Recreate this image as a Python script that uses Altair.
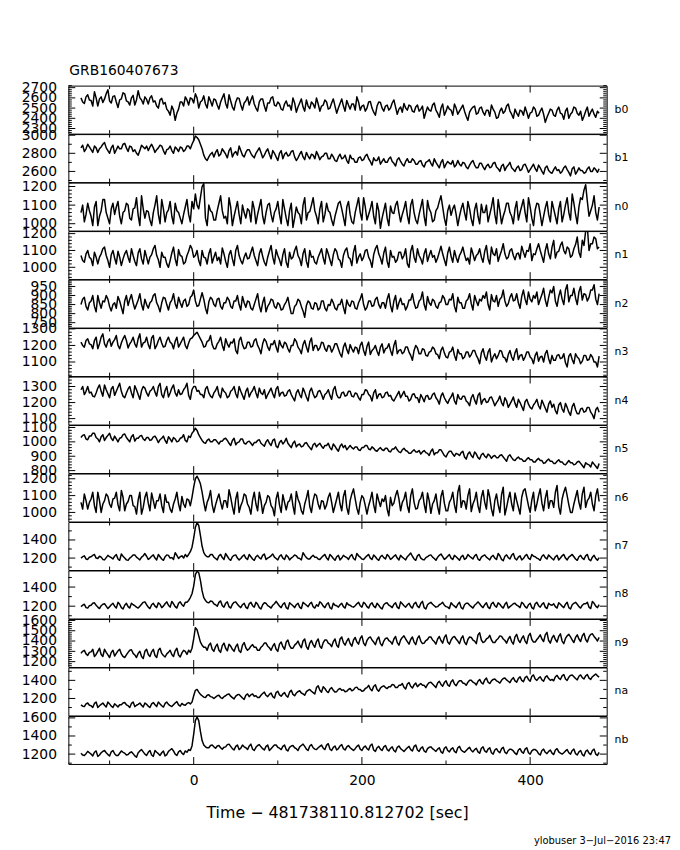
import altair as alt
import pandas as pd

# time bins (seconds relative to trigger), one value every 2 s
T_START = -134.0
T_STEP = 2.0

B0 = [2600, 2560, 2545, 2610, 2630, 2580, 2575, 2520, 2660, 2600, 2520, 2590, 2610, 2555, 2590, 2640, 2680, 2570, 2550, 2615,
      2620, 2560, 2505, 2580, 2590, 2650, 2640, 2570, 2560, 2530, 2600, 2625, 2530, 2580, 2670, 2600, 2580, 2540, 2610, 2585,
      2540, 2600, 2620, 2560, 2570, 2520, 2500, 2580, 2595, 2540, 2555, 2490, 2470, 2430, 2520, 2480, 2380, 2450, 2490, 2560,
      2560, 2520, 2610, 2580, 2530, 2600, 2590, 2550, 2640, 2600, 2500, 2560, 2575, 2620, 2540, 2500, 2610, 2570, 2520, 2590,
      2580, 2530, 2490, 2560, 2600, 2640, 2545, 2500, 2630, 2570, 2510, 2480, 2560, 2600, 2595, 2530, 2480, 2550, 2570, 2610,
      2530, 2580, 2620, 2540, 2500, 2470, 2560, 2590, 2590, 2520, 2470, 2550, 2550, 2600, 2610, 2530, 2520, 2560, 2540, 2490,
      2480, 2540, 2570, 2520, 2530, 2480, 2600, 2550, 2460, 2510, 2550, 2590, 2510, 2470, 2580, 2520, 2495, 2560, 2540, 2500,
      2600, 2540, 2470, 2520, 2530, 2580, 2560, 2490, 2500, 2550, 2590, 2520, 2450, 2500, 2545, 2590, 2520, 2470, 2575, 2530,
      2490, 2540, 2540, 2480, 2610, 2560, 2480, 2520, 2530, 2470, 2500, 2560, 2565, 2500, 2460, 2430, 2520, 2560, 2555, 2500,
      2470, 2520, 2530, 2480, 2500, 2550, 2580, 2510, 2440, 2490, 2510, 2460, 2545, 2500, 2480, 2530, 2520, 2470, 2460, 2510,
      2530, 2470, 2490, 2520, 2400, 2460, 2510, 2480, 2470, 2530, 2550, 2480, 2450, 2410, 2500, 2540, 2430, 2470, 2520, 2490,
      2480, 2430, 2540, 2500, 2440, 2470, 2500, 2530, 2470, 2420, 2380, 2460, 2490, 2510, 2520, 2440, 2450, 2500, 2510, 2460,
      2430, 2480, 2480, 2420, 2530, 2490, 2460, 2400, 2410, 2470, 2500, 2450, 2470, 2520, 2540, 2470, 2440, 2400, 2490, 2450,
      2420, 2480, 2470, 2430, 2510, 2460, 2400, 2450, 2460, 2510, 2490, 2420, 2430, 2470, 2500, 2440, 2360, 2410, 2450, 2490,
      2480, 2430, 2420, 2480, 2510, 2450, 2440, 2390, 2470, 2500, 2400, 2440, 2460, 2510, 2500, 2450, 2430, 2470, 2380, 2420,
      2470, 2510, 2420, 2460, 2490, 2440, 2410, 2470, 2450]

B1 = [2860, 2890, 2820, 2850, 2900, 2870, 2840, 2810, 2880, 2860, 2810, 2850, 2870, 2900, 2920, 2860, 2830, 2800, 2860, 2890,
      2800, 2840, 2880, 2850, 2850, 2900, 2910, 2860, 2820, 2880, 2870, 2820, 2840, 2800, 2780, 2830, 2890, 2870, 2850, 2880,
      2830, 2870, 2900, 2860, 2810, 2840, 2860, 2890, 2880, 2830, 2790, 2840, 2850, 2880, 2830, 2800, 2870, 2850, 2820, 2870,
      2860, 2820, 2840, 2880, 2880, 2850, 2900, 2940, 2990, 2975, 2950, 2900, 2850, 2780, 2740, 2720, 2760, 2790, 2810, 2760,
      2810, 2840, 2770, 2790, 2850, 2820, 2790, 2750, 2830, 2860, 2760, 2800, 2820, 2780, 2880, 2830, 2780, 2760, 2810, 2840,
      2840, 2800, 2770, 2750, 2800, 2830, 2860, 2810, 2750, 2780, 2820, 2850, 2790, 2740, 2830, 2800, 2760, 2720, 2800, 2830,
      2740, 2790, 2810, 2770, 2780, 2820, 2830, 2760, 2720, 2750, 2790, 2820, 2760, 2730, 2810, 2770, 2740, 2790, 2780, 2740,
      2820, 2780, 2730, 2760, 2770, 2800, 2800, 2740, 2740, 2790, 2760, 2720, 2710, 2760, 2790, 2740, 2750, 2780, 2720, 2690,
      2780, 2740, 2740, 2700, 2700, 2750, 2760, 2720, 2730, 2770, 2790, 2740, 2710, 2670, 2750, 2720, 2720, 2760, 2680, 2710,
      2740, 2700, 2700, 2740, 2760, 2710, 2690, 2660, 2730, 2750, 2710, 2680, 2660, 2710, 2740, 2700, 2700, 2740, 2720, 2680,
      2680, 2710, 2720, 2670, 2650, 2700, 2710, 2730, 2690, 2660, 2740, 2700, 2670, 2640, 2700, 2730, 2640, 2680, 2710, 2690,
      2680, 2720, 2650, 2670, 2720, 2680, 2660, 2700, 2690, 2650, 2630, 2670, 2700, 2720, 2670, 2640, 2640, 2690, 2690, 2650,
      2620, 2660, 2680, 2640, 2650, 2690, 2700, 2650, 2630, 2600, 2660, 2680, 2610, 2650, 2670, 2700, 2640, 2620, 2600, 2640,
      2660, 2610, 2620, 2670, 2680, 2640, 2590, 2620, 2650, 2680, 2630, 2600, 2670, 2640, 2600, 2570, 2640, 2660, 2610, 2590,
      2580, 2620, 2650, 2610, 2620, 2580, 2600, 2640, 2660, 2620, 2590, 2550, 2630, 2650, 2570, 2600, 2640, 2610, 2610, 2580,
      2590, 2630, 2650, 2600, 2600, 2640, 2620, 2590, 2630]

N0 = [1060, 1100, 1010, 1050, 1110, 1070, 1040, 990, 1090, 1120, 990, 1040, 1070, 1130, 1130, 1060, 1030, 1000, 1080, 1110,
      1050, 1090, 1120, 1040, 1000, 1060, 1070, 1110, 1100, 1030, 1020, 1080, 1085, 1140, 1045, 990, 1150, 1080, 1030, 1070,
      1065, 1020, 990, 1060, 1100, 1150, 1050, 1000, 1130, 1080, 1010, 1060, 1075, 1120, 1040, 1000, 1110, 1070, 1060, 1030,
      1000, 1050, 1090, 1130, 1050, 1010, 1120, 1080, 1160, 1100, 1080, 1140, 1200, 1215, 1030, 990, 1100, 1070, 1060, 1020,
      1020, 1070, 1110, 1150, 1070, 1030, 1040, 1000, 1140, 1090, 990, 1040, 1080, 1120, 1050, 1000, 1100, 1060, 1030, 1080,
      1070, 1010, 1120, 1080, 1000, 1050, 1090, 1130, 1040, 1000, 1060, 1100, 1110, 1050, 1010, 1060, 1080, 1120, 1050, 1000,
      1130, 1080, 1030, 990, 1070, 1110, 980, 1030, 1090, 1060, 1050, 1000, 1100, 1140, 1020, 1060, 1065, 1100, 1140, 1070,
      1040, 1000, 1080, 1120, 1010, 1050, 1110, 1070, 1060, 1020, 990, 1040, 1075, 1110, 1120, 1080, 1035, 990, 1090, 1120,
      1050, 1010, 1000, 1060, 1100, 1140, 1060, 1020, 1140, 1090, 1020, 1050, 1080, 1120, 1040, 1000, 1110, 1070, 975, 1030,
      1070, 1110, 1030, 990, 1095, 1060, 1055, 1100, 1120, 1060, 1010, 1050, 1080, 1120, 1045, 1000, 1100, 1130, 1060, 1020,
      1000, 1050, 1090, 1130, 1040, 990, 1125, 1080, 1060, 1010, 1020, 1070, 1085, 1120, 1150, 1090, 1030, 990, 1070, 1100,
      1045, 1080, 1100, 1050, 990, 1040, 1080, 1110, 1060, 1020, 1120, 1080, 1025, 990, 1075, 1110, 1040, 1000, 1105, 1060,
      1060, 1100, 1010, 1050, 1090, 1140, 1050, 1000, 1130, 1070, 1000, 1040, 1070, 1110, 1110, 1060, 1040, 1000, 1080, 1120,
      1020, 1060, 1095, 1130, 1060, 1010, 1140, 1090, 1030, 990, 1075, 1110, 1105, 1050, 990, 1040, 1085, 1120, 1050, 1010,
      1120, 1080, 1040, 1000, 1080, 1120, 1010, 1050, 1100, 1140, 1060, 1020, 1160, 1110, 1050, 1000, 1090, 1140, 1130, 1180,
      1210, 1120, 1040, 1070, 1100, 1150, 1060, 1020, 1090]

N1 = [1070, 1040, 1030, 1080, 1100, 1060, 1050, 1010, 1090, 1060, 1020, 1060, 1080, 1110, 1120, 1070, 1040, 1000, 1075, 1100,
      1055, 1020, 1095, 1060, 1010, 1050, 1080, 1100, 1060, 1030, 1110, 1070, 1035, 1010, 1085, 1110, 1050, 1020, 1100, 1060,
      1020, 1060, 1075, 1110, 1130, 1070, 1045, 1000, 1090, 1060, 1060, 1020, 1000, 1040, 1085, 1120, 1050, 1010, 1105, 1070,
      1065, 1020, 1030, 1070, 1095, 1130, 1110, 1060, 1070, 1100, 1040, 1010, 1100, 1060, 1055, 1020, 1080, 1110, 1025, 1060,
      1090, 1040, 1060, 1020, 1115, 1080, 1035, 1000, 1075, 1100, 1050, 1010, 1100, 1130, 1070, 1040, 1020, 1060, 1085, 1050,
      1055, 1090, 1120, 1070, 1040, 1010, 1080, 1110, 1065, 1030, 1010, 1060, 1095, 1130, 1060, 1020, 1105, 1070, 1045, 1010,
      1075, 1110, 1030, 1000, 1090, 1050, 1060, 1100, 1125, 1070, 1050, 1010, 1080, 1110, 1035, 1000, 1100, 1060, 1065, 1030,
      1020, 1060, 1085, 1110, 1055, 1020, 1110, 1080, 1045, 1010, 1075, 1110, 1095, 1050, 1040, 1000, 1070, 1100, 1115, 1060,
      1050, 1010, 1090, 1130, 1025, 1060, 1080, 1040, 1060, 1100, 1105, 1060, 1040, 1000, 1075, 1110, 1130, 1080, 1055, 1020,
      1085, 1120, 1035, 1000, 1100, 1060, 1065, 1030, 1045, 1090, 1090, 1050, 1070, 1110, 1020, 1000, 1095, 1130, 1060, 1030,
      1110, 1070, 1050, 1020, 1080, 1110, 1035, 1070, 1100, 1060, 1070, 1030, 1055, 1090, 1125, 1080, 1045, 1010, 1085, 1120,
      1065, 1030, 1100, 1060, 1030, 1070, 1090, 1120, 1075, 1040, 1055, 1020, 1115, 1080, 1040, 1070, 1080, 1110, 1060, 1030,
      1095, 1130, 1050, 1020, 1120, 1080, 1070, 1110, 1035, 1070, 1100, 1140, 1080, 1050, 1060, 1100, 1110, 1070, 1045, 1080,
      1085, 1050, 1125, 1090, 1060, 1100, 1095, 1140, 1040, 1080, 1075, 1110, 1140, 1100, 1065, 1030, 1100, 1140, 1080, 1050,
      1120, 1160, 1055, 1090, 1095, 1130, 1150, 1100, 1080, 1120, 1110, 1060, 1070, 1110, 1135, 1180, 1090, 1060, 1160, 1130,
      1215, 1240, 1100, 1140, 1140, 1180, 1170, 1110, 1120]

N2 = [850, 880, 890, 840, 820, 860, 870, 900, 840, 810, 900, 860, 830, 870, 865, 900, 880, 840, 815, 850,
      860, 830, 895, 870, 835, 800, 870, 900, 845, 880, 905, 860, 825, 850, 875, 910, 850, 820, 880, 850,
      830, 860, 870, 900, 910, 860, 840, 810, 860, 890, 885, 850, 820, 860, 875, 910, 855, 830, 890, 860,
      835, 870, 880, 840, 850, 890, 900, 930, 870, 840, 845, 880, 915, 880, 830, 800, 865, 890, 880, 850,
      840, 880, 885, 840, 825, 860, 860, 890, 875, 840, 830, 870, 870, 900, 850, 820, 895, 860, 835, 870,
      865, 830, 820, 850, 880, 910, 845, 810, 860, 890, 810, 840, 855, 880, 875, 840, 830, 860, 850, 820,
      825, 850, 865, 890, 840, 800, 800, 840, 850, 880, 870, 840, 815, 780, 845, 870, 860, 830, 825, 860,
      855, 820, 830, 870, 870, 830, 815, 850, 845, 880, 860, 830, 820, 850, 850, 880, 835, 800, 875, 850,
      840, 870, 865, 830, 825, 860, 880, 910, 850, 820, 835, 870, 870, 840, 845, 880, 890, 850, 830, 860,
      860, 830, 880, 910, 845, 810, 870, 900, 825, 860, 885, 850, 855, 820, 840, 875, 875, 910, 860, 830,
      835, 870, 880, 920, 850, 820, 895, 860, 845, 880, 870, 840, 830, 860, 865, 900, 885, 850, 850, 880,
      875, 910, 840, 810, 890, 860, 860, 830, 830, 870, 880, 910, 855, 820, 900, 870, 845, 880, 870, 900,
      885, 920, 850, 820, 905, 870, 865, 900, 840, 880, 890, 930, 870, 840, 855, 890, 910, 870, 875, 910,
      860, 830, 895, 930, 880, 850, 920, 880, 865, 900, 885, 920, 850, 880, 905, 940, 875, 840, 890, 930,
      915, 950, 870, 840, 895, 930, 880, 850, 930, 960, 865, 900, 900, 940, 885, 850, 920, 950, 875, 910,
      905, 870, 890, 930, 930, 960, 880, 850, 910]

N3 = [1220, 1200, 1190, 1230, 1240, 1210, 1205, 1180, 1230, 1250, 1180, 1210, 1250, 1270, 1210, 1190, 1225, 1240, 1195, 1220,
      1235, 1260, 1200, 1180, 1215, 1240, 1260, 1230, 1185, 1210, 1225, 1250, 1210, 1190, 1240, 1270, 1190, 1215, 1220, 1250,
      1205, 1180, 1245, 1260, 1180, 1200, 1230, 1250, 1215, 1190, 1195, 1230, 1250, 1220, 1210, 1180, 1225, 1250, 1190, 1210,
      1230, 1250, 1200, 1180, 1215, 1240, 1245, 1260, 1270, 1280, 1260, 1240, 1220, 1190, 1195, 1225, 1230, 1260, 1205, 1180,
      1180, 1210, 1225, 1250, 1200, 1170, 1240, 1210, 1190, 1220, 1215, 1240, 1170, 1150, 1230, 1250, 1205, 1180, 1185, 1220,
      1220, 1190, 1195, 1230, 1240, 1200, 1180, 1150, 1210, 1240, 1225, 1190, 1170, 1210, 1205, 1230, 1190, 1160, 1230, 1200,
      1185, 1220, 1210, 1180, 1160, 1200, 1200, 1240, 1225, 1190, 1175, 1150, 1205, 1230, 1190, 1160, 1220, 1245, 1170, 1200,
      1200, 1170, 1185, 1220, 1215, 1180, 1165, 1200, 1195, 1160, 1180, 1210, 1210, 1180, 1150, 1130, 1190, 1215, 1175, 1150,
      1205, 1180, 1160, 1190, 1185, 1150, 1200, 1220, 1170, 1140, 1195, 1220, 1145, 1170, 1180, 1200, 1165, 1140, 1190, 1210,
      1155, 1180, 1185, 1210, 1170, 1140, 1200, 1230, 1150, 1170, 1175, 1150, 1160, 1190, 1190, 1160, 1140, 1110, 1170, 1200,
      1185, 1150, 1150, 1180, 1175, 1140, 1135, 1160, 1165, 1190, 1180, 1150, 1145, 1120, 1170, 1190, 1155, 1130, 1125, 1160,
      1165, 1190, 1140, 1110, 1175, 1150, 1150, 1120, 1130, 1160, 1160, 1130, 1145, 1170, 1170, 1140, 1120, 1090, 1155, 1180,
      1135, 1110, 1160, 1180, 1100, 1130, 1150, 1120, 1140, 1170, 1165, 1130, 1125, 1100, 1145, 1170, 1130, 1110, 1155, 1180,
      1115, 1140, 1145, 1110, 1130, 1160, 1160, 1130, 1120, 1090, 1140, 1160, 1105, 1130, 1135, 1100, 1150, 1170, 1120, 1090,
      1140, 1110, 1110, 1140, 1145, 1120, 1125, 1150, 1095, 1070, 1135, 1150, 1115, 1090, 1150, 1130, 1120, 1090, 1105, 1140,
      1140, 1110, 1115, 1145, 1130, 1100, 1100, 1070, 1135]

N4 = [1280, 1300, 1250, 1270, 1300, 1260, 1265, 1240, 1235, 1260, 1290, 1310, 1270, 1240, 1310, 1280, 1255, 1230, 1285, 1300,
      1245, 1270, 1295, 1320, 1270, 1240, 1230, 1260, 1285, 1300, 1260, 1230, 1305, 1280, 1250, 1220, 1275, 1300, 1290, 1260,
      1240, 1270, 1280, 1300, 1265, 1240, 1300, 1320, 1250, 1230, 1275, 1300, 1235, 1260, 1290, 1310, 1260, 1240, 1280, 1250,
      1255, 1280, 1295, 1320, 1245, 1220, 1280, 1300, 1300, 1270, 1275, 1250, 1250, 1230, 1285, 1300, 1260, 1240, 1230, 1260,
      1275, 1300, 1250, 1230, 1290, 1270, 1260, 1230, 1240, 1270, 1280, 1300, 1255, 1230, 1300, 1270, 1245, 1220, 1270, 1290,
      1235, 1260, 1275, 1300, 1260, 1230, 1290, 1260, 1250, 1280, 1225, 1250, 1270, 1290, 1255, 1230, 1285, 1300, 1240, 1260,
      1265, 1240, 1245, 1270, 1280, 1250, 1230, 1210, 1260, 1280, 1250, 1230, 1290, 1265, 1235, 1210, 1270, 1290, 1255, 1230,
      1240, 1270, 1275, 1250, 1220, 1250, 1260, 1280, 1245, 1220, 1280, 1300, 1250, 1230, 1230, 1260, 1265, 1240, 1245, 1270,
      1270, 1240, 1235, 1260, 1255, 1230, 1215, 1250, 1250, 1280, 1275, 1250, 1240, 1210, 1260, 1280, 1225, 1250, 1255, 1230,
      1235, 1260, 1265, 1240, 1245, 1220, 1210, 1230, 1250, 1270, 1230, 1250, 1270, 1240, 1240, 1210, 1220, 1250, 1255, 1230,
      1230, 1200, 1250, 1230, 1205, 1240, 1245, 1220, 1225, 1250, 1260, 1230, 1215, 1190, 1240, 1260, 1230, 1210, 1195, 1220,
      1235, 1260, 1210, 1190, 1250, 1225, 1220, 1240, 1240, 1210, 1200, 1180, 1230, 1250, 1215, 1190, 1245, 1260, 1190, 1215,
      1225, 1200, 1205, 1230, 1235, 1210, 1180, 1200, 1215, 1240, 1200, 1180, 1230, 1210, 1170, 1190, 1210, 1235, 1195, 1170,
      1220, 1200, 1175, 1150, 1205, 1220, 1190, 1170, 1160, 1185, 1200, 1220, 1180, 1160, 1215, 1190, 1165, 1140, 1190, 1210,
      1170, 1190, 1150, 1130, 1185, 1200, 1160, 1140, 1195, 1170, 1140, 1120, 1175, 1195, 1155, 1130, 1130, 1160, 1165, 1140,
      1145, 1170, 1170, 1140, 1125, 1100, 1155, 1170, 1140]

N5 = [1030, 1045, 1050, 1020, 1015, 1040, 1040, 1060, 1060, 1030, 1020, 1000, 1035, 1050, 1010, 1030, 1045, 1060, 1025, 1010,
      1040, 1020, 1000, 1025, 1030, 1050, 1055, 1030, 1015, 1000, 1035, 1050, 1005, 1025, 1025, 1040, 1045, 1020, 1010, 1030,
      1030, 1010, 1015, 1035, 1040, 1020, 995, 1015, 1025, 1040, 1010, 990, 1035, 1020, 1000, 1030, 1020, 1000, 1005, 1025,
      1030, 1050, 1010, 1000, 1040, 1030, 1060, 1075, 1095, 1080, 1050, 1030, 1010, 995, 990, 1010, 1020, 1000, 1000, 1015,
      1015, 1000, 985, 1005, 1005, 1020, 1025, 1010, 990, 975, 1010, 1025, 980, 995, 1000, 1020, 1020, 990, 985, 1000,
      1005, 990, 975, 995, 995, 1010, 1015, 990, 980, 970, 1000, 1015, 990, 975, 1010, 1020, 970, 960, 995, 1010,
      985, 1000, 1025, 990, 975, 960, 990, 1005, 965, 980, 985, 965, 970, 990, 995, 975, 960, 945, 980, 990,
      965, 980, 990, 970, 955, 975, 975, 990, 960, 945, 985, 970, 950, 935, 970, 985, 960, 975, 945, 960,
      975, 960, 950, 965, 965, 945, 940, 960, 960, 975, 975, 950, 945, 965, 955, 940, 935, 950, 960, 945,
      940, 955, 955, 935, 930, 950, 950, 965, 945, 930, 925, 945, 955, 940, 935, 920, 920, 935, 945, 930,
      930, 940, 915, 930, 940, 925, 920, 905, 935, 950, 910, 925, 925, 945, 945, 925, 905, 895, 920, 935,
      935, 915, 900, 920, 915, 905, 925, 935, 895, 880, 915, 930, 905, 890, 930, 915, 890, 880, 910, 920,
      900, 890, 915, 905, 885, 900, 905, 890, 890, 905, 910, 895, 880, 865, 900, 910, 890, 875, 870, 885,
      895, 880, 880, 865, 865, 880, 890, 875, 875, 860, 860, 875, 885, 870, 870, 850, 855, 870, 880, 865,
      865, 850, 850, 865, 875, 860, 860, 845, 840, 855, 870, 855, 855, 840, 845, 860, 865, 850, 835, 820,
      855, 845, 840, 825, 860, 845, 830, 815, 850]

N6 = [1060, 1020, 1110, 1070, 1020, 1060, 1080, 1120, 1040, 1000, 1120, 1070, 1000, 1050, 1070, 1110, 1095, 1050, 1030, 1080,
      1085, 1120, 1045, 1010, 1130, 1090, 1010, 1050, 1065, 1100, 1100, 1040, 1035, 990, 1075, 1120, 990, 1030, 1090, 1120,
      1055, 1010, 1115, 1070, 1025, 1070, 1070, 1110, 1040, 1000, 1105, 1060, 1060, 1020, 1000, 1050, 1080, 1120, 1050, 1010,
      1095, 1050, 1030, 1080, 1075, 1040, 1090, 1150, 1200, 1215, 1195, 1170, 1120, 1060, 1010, 1060, 1085, 1130, 1045, 1000,
      1045, 1080, 1110, 1060, 1020, 1070, 1070, 1030, 1135, 1090, 1035, 990, 1080, 1120, 1000, 1040, 1065, 1110, 1100, 1050,
      1030, 990, 1075, 1120, 1050, 1010, 1120, 1070, 995, 1040, 1060, 1100, 1090, 1040, 1025, 980, 1080, 1120, 1045, 1000,
      1105, 1060, 1015, 1060, 1070, 1110, 1040, 990, 1125, 1080, 1055, 1010, 990, 1050, 1085, 1130, 1035, 1000, 1070, 1110,
      1100, 1050, 1020, 1070, 1065, 1020, 1045, 1090, 1115, 1060, 1000, 1040, 1080, 1120, 1050, 1010, 1095, 1130, 1030, 990,
      1070, 1110, 1140, 1080, 1025, 990, 1060, 1100, 1085, 1040, 990, 1040, 1075, 1120, 1045, 1000, 1110, 1070, 1035, 1080,
      1065, 1100, 1020, 980, 1090, 1040, 1055, 1100, 1130, 1080, 1010, 1060, 1080, 1120, 1040, 1000, 1100, 1140, 1060, 1020,
      1025, 1070, 1085, 1120, 1050, 1000, 1115, 1070, 995, 1050, 1070, 1110, 1035, 990, 1095, 1130, 1055, 1010, 1010, 1060,
      1080, 1120, 1045, 1000, 1120, 1160, 1030, 1070, 1065, 1020, 1100, 1140, 1005, 1050, 1075, 1120, 1040, 1000, 1090, 1130,
      1060, 1020, 1135, 1090, 1020, 980, 1070, 1110, 1045, 1000, 1105, 1150, 985, 1030, 1080, 1120, 1050, 1010, 1115, 1070,
      1030, 990, 1090, 1130, 1140, 1090, 1040, 1000, 1075, 1120, 1010, 1050, 1100, 1140, 1055, 1010, 1085, 1130, 1025, 1070,
      1070, 1030, 1120, 1160, 1035, 990, 1080, 1120, 1150, 1100, 1045, 1000, 1000, 1050, 1090, 1130, 1060, 1020, 1110, 1150,
      1030, 1070, 1085, 1120, 1050, 1010, 1100, 1140, 1065]

N7 = [1200, 1215, 1225, 1190, 1185, 1210, 1215, 1230, 1240, 1200, 1195, 1220, 1210, 1185, 1180, 1205, 1230, 1215, 1205, 1190,
      1220, 1240, 1190, 1175, 1245, 1220, 1200, 1180, 1175, 1200, 1215, 1235, 1235, 1210, 1195, 1180, 1210, 1225, 1250, 1220,
      1185, 1200, 1220, 1235, 1200, 1180, 1240, 1215, 1190, 1175, 1215, 1235, 1230, 1200, 1205, 1185, 1260, 1230, 1195, 1215,
      1225, 1200, 1240, 1215, 1240, 1270, 1320, 1420, 1540, 1590, 1560, 1450, 1330, 1260, 1230, 1215, 1215, 1240, 1240, 1210,
      1195, 1180, 1225, 1240, 1205, 1185, 1250, 1220, 1190, 1175, 1215, 1230, 1235, 1200, 1180, 1195, 1220, 1235, 1200, 1185,
      1240, 1215, 1190, 1175, 1215, 1230, 1205, 1190, 1230, 1245, 1185, 1200, 1210, 1225, 1245, 1210, 1195, 1180, 1220, 1235,
      1200, 1185, 1235, 1215, 1180, 1200, 1215, 1235, 1225, 1200, 1195, 1180, 1260, 1230, 1205, 1190, 1190, 1215, 1230, 1210,
      1210, 1190, 1185, 1205, 1225, 1240, 1200, 1180, 1240, 1220, 1195, 1175, 1215, 1230, 1180, 1200, 1230, 1215, 1205, 1185,
      1220, 1240, 1195, 1180, 1250, 1225, 1210, 1190, 1185, 1205, 1225, 1240, 1200, 1185, 1235, 1215, 1190, 1175, 1215, 1230,
      1205, 1190, 1240, 1220, 1185, 1200, 1220, 1235, 1200, 1180, 1230, 1210, 1195, 1180, 1215, 1235, 1255, 1220, 1190, 1175,
      1225, 1240, 1200, 1185, 1180, 1205, 1215, 1230, 1235, 1210, 1195, 1175, 1210, 1230, 1245, 1215, 1185, 1200, 1220, 1240,
      1200, 1185, 1230, 1215, 1195, 1175, 1215, 1230, 1185, 1200, 1240, 1220, 1205, 1190, 1225, 1240, 1190, 1175, 1210, 1225,
      1235, 1210, 1195, 1180, 1215, 1230, 1200, 1185, 1250, 1225, 1185, 1170, 1220, 1235, 1205, 1190, 1230, 1250, 1195, 1180,
      1210, 1225, 1180, 1195, 1225, 1240, 1200, 1185, 1240, 1220, 1215, 1200, 1190, 1175, 1220, 1235, 1205, 1190, 1235, 1215,
      1195, 1180, 1215, 1230, 1180, 1200, 1225, 1240, 1200, 1180, 1210, 1225, 1240, 1215, 1190, 1175, 1215, 1230, 1200, 1185,
      1225, 1240, 1185, 1170, 1210, 1230, 1195, 1175, 1205]

N8 = [1195, 1210, 1220, 1185, 1180, 1205, 1210, 1230, 1235, 1210, 1190, 1175, 1205, 1220, 1225, 1200, 1175, 1195, 1215, 1230,
      1200, 1180, 1240, 1220, 1185, 1170, 1210, 1230, 1195, 1180, 1230, 1215, 1205, 1190, 1180, 1200, 1220, 1240, 1245, 1215,
      1190, 1175, 1215, 1230, 1200, 1185, 1235, 1220, 1185, 1200, 1225, 1245, 1210, 1190, 1250, 1225, 1195, 1180, 1230, 1245,
      1215, 1200, 1240, 1240, 1260, 1290, 1330, 1410, 1530, 1565, 1550, 1470, 1360, 1290, 1260, 1240, 1235, 1255, 1250, 1225,
      1215, 1200, 1240, 1255, 1205, 1190, 1230, 1245, 1195, 1180, 1220, 1240, 1245, 1220, 1200, 1185, 1215, 1230, 1190, 1175,
      1225, 1240, 1205, 1190, 1240, 1220, 1185, 1170, 1215, 1235, 1230, 1205, 1195, 1180, 1210, 1225, 1250, 1225, 1200, 1185,
      1220, 1235, 1185, 1170, 1235, 1220, 1205, 1185, 1215, 1230, 1190, 1175, 1240, 1225, 1210, 1195, 1225, 1240, 1195, 1180,
      1215, 1200, 1245, 1230, 1200, 1185, 1220, 1235, 1185, 1170, 1230, 1210, 1205, 1190, 1215, 1230, 1195, 1180, 1235, 1215,
      1210, 1195, 1190, 1205, 1225, 1240, 1205, 1190, 1240, 1225, 1195, 1180, 1220, 1235, 1200, 1185, 1230, 1210, 1185, 1170,
      1215, 1230, 1235, 1210, 1200, 1185, 1220, 1235, 1190, 1175, 1245, 1225, 1205, 1190, 1215, 1230, 1195, 1180, 1225, 1240,
      1200, 1185, 1230, 1250, 1185, 1170, 1215, 1230, 1240, 1220, 1205, 1190, 1195, 1215, 1225, 1240, 1210, 1195, 1190, 1175,
      1235, 1215, 1200, 1185, 1220, 1240, 1185, 1170, 1215, 1230, 1230, 1210, 1195, 1180, 1210, 1225, 1245, 1225, 1200, 1185,
      1215, 1235, 1190, 1175, 1225, 1240, 1205, 1190, 1235, 1220, 1195, 1180, 1220, 1240, 1180, 1195, 1210, 1225, 1230, 1210,
      1200, 1185, 1240, 1225, 1195, 1180, 1215, 1230, 1185, 1170, 1225, 1240, 1205, 1190, 1220, 1235, 1190, 1175, 1230, 1215,
      1210, 1225, 1195, 1180, 1235, 1220, 1200, 1185, 1220, 1240, 1185, 1170, 1215, 1230, 1240, 1220, 1195, 1180, 1210, 1225,
      1225, 1240, 1190, 1175, 1250, 1230, 1200, 1185, 1215]

N9 = [1280, 1300, 1310, 1275, 1260, 1290, 1295, 1320, 1250, 1270, 1300, 1330, 1270, 1250, 1320, 1290, 1265, 1240, 1290, 1310,
      1255, 1280, 1305, 1320, 1275, 1250, 1240, 1265, 1290, 1310, 1315, 1280, 1265, 1240, 1280, 1300, 1250, 1230, 1300, 1320,
      1270, 1250, 1295, 1320, 1260, 1240, 1310, 1330, 1280, 1260, 1245, 1275, 1290, 1310, 1270, 1250, 1305, 1330, 1265, 1245,
      1285, 1310, 1300, 1270, 1310, 1290, 1330, 1420, 1530, 1510, 1450, 1390, 1360, 1340, 1340, 1310, 1360, 1380, 1320, 1300,
      1345, 1370, 1310, 1290, 1355, 1380, 1330, 1305, 1370, 1350, 1320, 1300, 1345, 1370, 1305, 1290, 1360, 1385, 1335, 1310,
      1325, 1350, 1365, 1340, 1340, 1310, 1310, 1340, 1355, 1380, 1380, 1350, 1335, 1310, 1350, 1375, 1320, 1300, 1370, 1390,
      1345, 1320, 1390, 1410, 1355, 1330, 1330, 1360, 1375, 1400, 1360, 1335, 1400, 1420, 1345, 1320, 1380, 1405, 1365, 1340,
      1395, 1420, 1350, 1330, 1385, 1410, 1410, 1380, 1370, 1345, 1395, 1420, 1360, 1340, 1420, 1440, 1385, 1360, 1400, 1425,
      1375, 1350, 1410, 1435, 1390, 1370, 1425, 1450, 1380, 1355, 1405, 1430, 1440, 1410, 1390, 1365, 1415, 1440, 1375, 1355,
      1400, 1425, 1430, 1405, 1395, 1370, 1420, 1445, 1385, 1360, 1410, 1435, 1450, 1420, 1395, 1370, 1415, 1440, 1390, 1365,
      1425, 1450, 1400, 1375, 1380, 1405, 1415, 1440, 1440, 1410, 1395, 1370, 1420, 1445, 1405, 1380, 1435, 1460, 1390, 1370,
      1410, 1435, 1445, 1420, 1400, 1375, 1425, 1450, 1390, 1365, 1415, 1440, 1435, 1410, 1400, 1375, 1460, 1480, 1410, 1385,
      1395, 1420, 1430, 1455, 1410, 1385, 1385, 1410, 1425, 1450, 1445, 1420, 1405, 1380, 1420, 1445, 1395, 1370, 1440, 1465,
      1410, 1385, 1425, 1450, 1400, 1375, 1450, 1475, 1415, 1390, 1390, 1415, 1435, 1460, 1420, 1395, 1460, 1485, 1405, 1380,
      1430, 1455, 1415, 1390, 1445, 1470, 1400, 1375, 1425, 1450, 1465, 1440, 1410, 1385, 1435, 1460, 1420, 1395, 1450, 1475,
      1415, 1390, 1440, 1465, 1470, 1445, 1425, 1400, 1435]

NA = [1130, 1115, 1110, 1140, 1150, 1125, 1120, 1100, 1145, 1160, 1100, 1120, 1135, 1150, 1125, 1105, 1160, 1140, 1115, 1100,
      1140, 1125, 1105, 1130, 1130, 1150, 1155, 1130, 1120, 1100, 1145, 1160, 1110, 1125, 1135, 1150, 1125, 1105, 1150, 1135,
      1115, 1100, 1140, 1155, 1130, 1110, 1160, 1140, 1120, 1105, 1145, 1160, 1135, 1120, 1110, 1130, 1150, 1165, 1130, 1115,
      1145, 1130, 1125, 1145, 1155, 1140, 1160, 1230, 1290, 1300, 1270, 1245, 1230, 1215, 1210, 1235, 1240, 1220, 1215, 1200,
      1215, 1230, 1235, 1210, 1200, 1220, 1230, 1245, 1250, 1225, 1210, 1195, 1225, 1240, 1245, 1225, 1205, 1190, 1235, 1250,
      1220, 1240, 1250, 1225, 1230, 1210, 1210, 1235, 1255, 1270, 1235, 1220, 1245, 1260, 1220, 1205, 1265, 1280, 1240, 1225,
      1250, 1265, 1230, 1215, 1270, 1290, 1245, 1230, 1260, 1275, 1285, 1260, 1250, 1235, 1275, 1290, 1300, 1280, 1265, 1250,
      1320, 1340, 1290, 1270, 1330, 1310, 1280, 1265, 1305, 1320, 1290, 1270, 1275, 1300, 1310, 1290, 1295, 1275, 1280, 1300,
      1310, 1285, 1295, 1320, 1325, 1300, 1300, 1280, 1285, 1310, 1320, 1345, 1305, 1285, 1335, 1350, 1300, 1280, 1315, 1330,
      1340, 1320, 1310, 1330, 1330, 1355, 1350, 1320, 1320, 1345, 1345, 1365, 1325, 1305, 1360, 1375, 1335, 1315, 1350, 1370,
      1330, 1350, 1365, 1345, 1345, 1320, 1355, 1375, 1380, 1360, 1340, 1320, 1370, 1390, 1355, 1335, 1375, 1395, 1350, 1335,
      1385, 1405, 1360, 1340, 1375, 1395, 1395, 1370, 1365, 1345, 1380, 1400, 1400, 1380, 1370, 1350, 1390, 1410, 1375, 1360,
      1405, 1425, 1380, 1365, 1395, 1410, 1415, 1395, 1385, 1370, 1400, 1420, 1425, 1405, 1390, 1375, 1410, 1430, 1395, 1380,
      1420, 1440, 1400, 1385, 1430, 1445, 1410, 1390, 1445, 1460, 1415, 1400, 1425, 1440, 1405, 1390, 1435, 1450, 1420, 1400,
      1410, 1395, 1440, 1455, 1425, 1410, 1450, 1465, 1415, 1400, 1435, 1455, 1460, 1440, 1420, 1405, 1445, 1460, 1430, 1415,
      1450, 1465, 1425, 1410, 1440, 1455, 1470, 1450, 1435]

NB = [1210, 1190, 1185, 1205, 1230, 1215, 1200, 1180, 1220, 1235, 1175, 1190, 1215, 1230, 1240, 1215, 1195, 1180, 1225, 1240,
      1205, 1185, 1185, 1210, 1235, 1220, 1210, 1190, 1195, 1215, 1225, 1205, 1180, 1165, 1215, 1235, 1250, 1225, 1200, 1185,
      1220, 1240, 1190, 1175, 1240, 1220, 1205, 1185, 1215, 1235, 1180, 1195, 1230, 1245, 1260, 1235, 1200, 1185, 1225, 1240,
      1210, 1195, 1235, 1220, 1250, 1240, 1290, 1420, 1570, 1610, 1570, 1450, 1350, 1300, 1280, 1270, 1270, 1295, 1300, 1280,
      1265, 1290, 1295, 1270, 1255, 1275, 1280, 1305, 1310, 1285, 1260, 1245, 1285, 1300, 1250, 1265, 1300, 1280, 1270, 1250,
      1290, 1310, 1255, 1240, 1275, 1295, 1305, 1280, 1260, 1245, 1285, 1300, 1240, 1260, 1280, 1300, 1300, 1275, 1265, 1250,
      1285, 1300, 1250, 1235, 1275, 1290, 1295, 1270, 1260, 1240, 1280, 1295, 1310, 1285, 1255, 1240, 1290, 1305, 1270, 1255,
      1250, 1270, 1285, 1300, 1265, 1250, 1300, 1315, 1255, 1240, 1275, 1290, 1245, 1260, 1290, 1305, 1260, 1245, 1280, 1295,
      1270, 1255, 1240, 1260, 1285, 1300, 1255, 1240, 1275, 1290, 1260, 1245, 1295, 1310, 1245, 1230, 1270, 1285, 1255, 1240,
      1280, 1295, 1250, 1235, 1265, 1280, 1240, 1225, 1275, 1290, 1260, 1245, 1230, 1250, 1270, 1285, 1250, 1235, 1285, 1300,
      1245, 1230, 1265, 1280, 1235, 1220, 1260, 1275, 1280, 1260, 1245, 1230, 1255, 1270, 1225, 1210, 1265, 1280, 1240, 1225,
      1255, 1270, 1230, 1215, 1270, 1285, 1245, 1230, 1220, 1240, 1260, 1275, 1240, 1225, 1250, 1265, 1225, 1210, 1265, 1280,
      1235, 1220, 1255, 1270, 1215, 1200, 1245, 1260, 1230, 1215, 1260, 1275, 1220, 1205, 1240, 1255, 1250, 1235, 1210, 1195,
      1245, 1260, 1225, 1210, 1255, 1270, 1215, 1200, 1235, 1250, 1250, 1235, 1205, 1190, 1240, 1255, 1220, 1205, 1230, 1245,
      1210, 1195, 1245, 1260, 1225, 1210, 1200, 1215, 1235, 1250, 1215, 1200, 1240, 1255, 1205, 1190, 1225, 1240, 1195, 1180,
      1230, 1245, 1210, 1195, 1240, 1255, 1200, 1185, 1220]

DETECTORS = ["b0", "b1", "n0", "n1", "n2", "n3", "n4",
             "n5", "n6", "n7", "n8", "n9", "na", "nb"]
SERIES = {"b0": B0, "b1": B1, "n0": N0, "n1": N1, "n2": N2, "n3": N3,
          "n4": N4, "n5": N5, "n6": N6, "n7": N7, "n8": N8, "n9": N9,
          "na": NA, "nb": NB}

Y_DOMAIN = {"b0": (2250, 2720), "b1": (2482, 3012), "n0": (963, 1221),
            "n1": (930, 1215), "n2": (723, 988), "n3": (1015, 1305),
            "n4": (1063, 1362), "n5": (783, 1117), "n6": (946, 1231),
            "n7": (1068, 1598), "n8": (1071, 1573), "n9": (1148, 1614),
            "na": (1012, 1542), "nb": (1091, 1621)}
Y_LABELS = {"b0": [2300, 2400, 2500, 2600, 2700], "b1": [2600, 2800, 3000],
            "n0": [1000, 1100, 1200], "n1": [1000, 1100, 1200],
            "n2": [750, 800, 850, 900, 950], "n3": [1100, 1200, 1300],
            "n4": [1100, 1200, 1300], "n5": [800, 900, 1000, 1100],
            "n6": [1000, 1100, 1200], "n7": [1200, 1400], "n8": [1200, 1400],
            "n9": [1200, 1300, 1400, 1500, 1600], "na": [1200, 1400],
            "nb": [1200, 1400, 1600]}
Y_MINOR_STEP = {"b0": 20, "b1": 100, "n0": 20, "n1": 20, "n2": 10, "n3": 20,
                "n4": 20, "n5": 20, "n6": 20, "n7": 100, "n8": 100, "n9": 20,
                "na": 100, "nb": 100}

X_DOMAIN = [-149, 491]
X_LABELS = [0, 200, 400]
X_MINOR = [-100, 100, 300]

TITLE = "GRB160407673"
X_TITLE = "Time \u2212 481738110.812702 [sec]"
FOOTER = "ylobuser  3\u2212Jul\u22122016 23:47"

W = 544
H = 48.5
FONT = "DejaVu Sans"
MAJ = 7
MIN = 3.5


def minor_ticks(lo, hi, step, majors):
    out = []
    v = (lo // step + 1) * step
    while v <= hi:
        if v not in majors:
            out.append(v)
        v += step
    return out


def y_rules(values, ys, yaxis, length, side):
    df = pd.DataFrame({"v": values})
    if side == "left":
        xa, xb = alt.value(0), alt.value(length)
    else:
        xa, xb = alt.value(W), alt.value(W - length)
    return alt.Chart(df).mark_rule(color="black", strokeWidth=1).encode(
        y=alt.Y("v:Q", scale=ys, axis=yaxis), x=xa, x2=xb)


def x_rules(values, xs, xaxis, length, side):
    df = pd.DataFrame({"t": values})
    if side == "bottom":
        ya, yb = alt.value(H), alt.value(H - length)
    else:
        ya, yb = alt.value(0), alt.value(length)
    return alt.Chart(df).mark_rule(color="black", strokeWidth=1).encode(
        x=alt.X("t:Q", scale=xs, axis=xaxis), y=ya, y2=yb)


def text_layer(txt, x, y, size, align="left", baseline="alphabetic"):
    return alt.Chart(pd.DataFrame({"s": [txt]})).mark_text(
        font=FONT, fontSize=size, color="black", align=align, baseline=baseline
    ).encode(text="s:N", x=alt.value(x), y=alt.value(y))


def panel(name, first, last):
    vals = SERIES[name]
    df = pd.DataFrame({"t": [T_START + T_STEP * i for i in range(len(vals))],
                       "v": vals})
    lo, hi = Y_DOMAIN[name]
    majors = [m for m in Y_LABELS[name] if lo <= m <= hi]
    minors = minor_ticks(lo, hi, Y_MINOR_STEP[name], majors)
    xs = alt.Scale(domain=X_DOMAIN, nice=False, zero=False)
    ys = alt.Scale(domain=[lo, hi], nice=False, zero=False)
    if last:
        xaxis = alt.Axis(values=X_LABELS, ticks=False, tickSize=0, domain=False,
                         grid=False, labelPadding=10, labelFontSize=14,
                         labelFlush=False, format="d", title=None)
    else:
        xaxis = None
    yaxis = alt.Axis(values=majors, ticks=False, tickSize=0, domain=False,
                     grid=False, labelPadding=12, labelFontSize=14,
                     labelFlush=False, labelOverlap=False, format="d",
                     title=None)
    line = alt.Chart(df).mark_line(color="black", strokeWidth=1.5,
                                   strokeJoin="round", clip=True).encode(
        x=alt.X("t:Q", scale=xs, axis=xaxis),
        y=alt.Y("v:Q", scale=ys, axis=yaxis))
    layers = [line,
              y_rules(majors, ys, yaxis, MAJ, "left"),
              y_rules(minors, ys, yaxis, MIN, "left"),
              y_rules(majors, ys, yaxis, MAJ, "right"),
              y_rules(minors, ys, yaxis, MIN, "right"),
              x_rules(X_LABELS, xs, xaxis, MAJ, "bottom"),
              x_rules(X_MINOR, xs, xaxis, MIN, "bottom"),
              x_rules(X_LABELS, xs, xaxis, MAJ, "top"),
              x_rules(X_MINOR, xs, xaxis, MIN, "top"),
              text_layer(name, W + 8, H / 2, 11, baseline="middle")]
    if first:
        layers.append(text_layer(TITLE, 1, -11, 14))
    if last:
        layers.append(text_layer(X_TITLE, W / 2, H + 49.5, 16, align="center",
                                 baseline="middle"))
        layers.append(text_layer(FOOTER, W + 65, H + 81, 10, align="right"))
    return alt.layer(*layers).properties(width=W, height=H)


panels = [panel(n, i == 0, i == len(DETECTORS) - 1) for i, n in enumerate(DETECTORS)]

chart = alt.vconcat(*panels, spacing=0, bounds="flush").properties(
    padding={"left": 12, "top": 51, "right": 0, "bottom": 0}
).configure_view(stroke="black", strokeWidth=1).configure_axis(
    labelFont=FONT, labelColor="black"
)

chart.save("out.html", embed_options={"renderer": "svg", "actions": False})
